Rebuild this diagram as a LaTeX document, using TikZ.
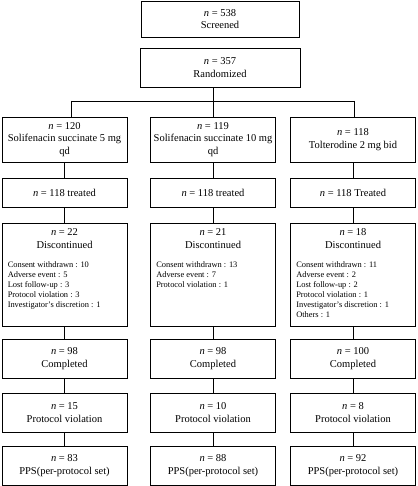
\documentclass[tikz,border=0pt]{standalone}
\usepackage{fontspec}
\setmainfont{Liberation Serif}
\begin{document}
\begin{tikzpicture}[x=1pt,y=-1pt,
  box/.style={draw,line width=0.9pt,minimum width=125pt,inner sep=0pt,align=center,
    font=\fontsize{10.5pt}{12.5pt}\selectfont},
  link/.style={line width=0.9pt},
  head/.style={inner sep=0pt,align=center,font=\fontsize{10.5pt}{13pt}\selectfont},
  small/.style={align=left,inner sep=0pt,anchor=north west,
    font=\fontsize{8.4pt}{10pt}\selectfont}]
\useasboundingbox (0,0) rectangle (417,486);

% top
\node[box,minimum width=158pt,minimum height=36pt] (scr) at (220,19) {\textit{n} = 538\\Screened};
\node[box,minimum width=160pt,minimum height=39pt] (rand) at (220,67.5) {\textit{n} = 357\\Randomized};

% arms
\node[box,minimum height=45pt] (a1) at (64.5,139.5) {\textit{n} = 120\\Solifenacin succinate 5 mg\\qd};
\node[box,minimum height=45pt] (a2) at (213,139.5) {\textit{n} = 119\\Solifenacin succinate 10 mg\\qd};
\node[box,minimum height=45pt] (a3) at (353,139.5) {\textit{n} = 118\\Tolterodine 2 mg bid};

% treated
\node[box,minimum height=29pt] (t1) at (64.5,192.5) {\textit{n} = 118 treated};
\node[box,minimum height=29pt] (t2) at (213,192.5) {\textit{n} = 118 treated};
\node[box,minimum height=29pt] (t3) at (353,192.5) {\textit{n} = 118 Treated};

% discontinued
\node[box,minimum height=103pt] (d1) at (64.5,274.5) {};
\node[box,minimum height=103pt] (d2) at (213,274.5) {};
\node[box,minimum height=103pt] (d3) at (353,274.5) {};
\node[head] (d1h) at ([yshift=-16.5pt]d1.north) {\textit{n} = 22\\Discontinued};
\node[head] (d2h) at ([yshift=-16.5pt]d2.north) {\textit{n} = 21\\Discontinued};
\node[head] (d3h) at ([yshift=-16.5pt]d3.north) {\textit{n} = 18\\Discontinued};
\node[small] (d1l) at ([xshift=6pt,yshift=-39pt]d1.north west)
  {Consent withdrawn : 10\\Adverse event : 5\\Lost follow-up : 3\\Protocol violation : 3\\Investigator’s discretion : 1};
\node[small] (d2l) at ([xshift=6pt,yshift=-39pt]d2.north west)
  {Consent withdrawn : 13\\Adverse event : 7\\Protocol violation : 1};
\node[small] (d3l) at ([xshift=6pt,yshift=-39pt]d3.north west)
  {Consent withdrawn : 11\\Adverse event : 2\\Lost follow-up : 2\\Protocol violation : 1\\Investigator’s discretion : 1\\Others : 1};

% completed
\node[box,minimum height=39pt] (c1) at (64.5,358.5) {\textit{n} = 98\\Completed};
\node[box,minimum height=39pt] (c2) at (213,358.5) {\textit{n} = 98\\Completed};
\node[box,minimum height=39pt] (c3) at (353,358.5) {\textit{n} = 100\\Completed};

% protocol violation
\node[box,minimum height=39pt] (p1) at (64.5,412.5) {\textit{n} = 15\\Protocol violation};
\node[box,minimum height=39pt] (p2) at (213,412.5) {\textit{n} = 10\\Protocol violation};
\node[box,minimum height=39pt] (p3) at (353,412.5) {\textit{n} = 8\\Protocol violation};

% PPS
\node[box,minimum height=39pt] (s1) at (64.5,465.5) {\textit{n} = 83\\PPS(per-protocol set)};
\node[box,minimum height=39pt] (s2) at (213,465.5) {\textit{n} = 88\\PPS(per-protocol set)};
\node[box,minimum height=39pt] (s3) at (353,465.5) {\textit{n} = 92\\PPS(per-protocol set)};

% connectors
\coordinate (hm) at (213,101);
\coordinate (hl) at (71,101);
\coordinate (hr) at (354,101);
\draw[link] (rand.south -| hm) -- (hm);
\draw[link] (hl) -- (hr);
\draw[link] (hl) -- (hl |- a1.north);
\draw[link] (hm) -- (a2.north);
\draw[link] (hr) -- (hr |- a3.north);
\foreach \c in {1,2,3}{
  \draw[link] (a\c.south) -- (t\c.north);
  \draw[link] (t\c.south) -- (d\c.north);
  \draw[link] (d\c.south) -- (c\c.north);
  \draw[link] (c\c.south) -- (p\c.north);
  \draw[link] (p\c.south) -- (s\c.north);
}
\end{tikzpicture}
\end{document}
